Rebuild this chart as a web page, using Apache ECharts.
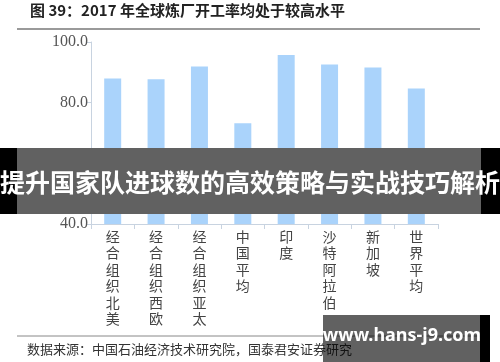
<!DOCTYPE html>
<html><head><meta charset="utf-8">
<script src="https://cdn.jsdelivr.net/npm/echarts@6/dist/echarts.min.js"></script>
<style>html,body{margin:0;padding:0;background:#fff}#c{width:500px;height:362px}</style>
</head><body><div id="c"></div>
<script>
const categories = ['经合组织北美','经合组织西欧','经合组织亚太','中国平均','印度','沙特阿拉伯','新加坡','世界平均'];
const values = [88.0, 87.7, 91.9, 73.2, 95.7, 92.6, 91.6, 84.7];
const yTicks = {min: 40, max: 100, interval: 20};
const titleText = '图 39：2017 年全球炼厂开工率均处于较高水平';
const sourceText = '数据来源：中国石油经济技术研究院，国泰君安证券研究';
const bannerText = '提升国家队进球数的高效策略与实战技巧解析';
const watermarkText = 'www.hans-j9.com';

const chart = echarts.init(document.getElementById('c'), null, {renderer: 'canvas'});
chart.setOption({
  animation: false,
  backgroundColor: '#fff',
  grid: {left: 91, right: 62, top: 42, bottom: 138, containLabel: false},
  xAxis: {
    type: 'category', data: categories, boundaryGap: true,
    axisLine: {lineStyle: {color: '#c8d3e0', width: 1}},
    axisTick: {show: true, length: 5, lineStyle: {color: '#c8d3e0'}},
    axisLabel: {
      interval: 0, margin: 4, color: '#444',
      fontFamily: 'Noto Sans CJK SC', fontSize: 14, lineHeight: 16.5,
      formatter: v => v.split('').join('\n')
    }
  },
  yAxis: {
    type: 'value', min: yTicks.min, max: yTicks.max, interval: yTicks.interval,
    splitLine: {show: false},
    axisLine: {show: true, lineStyle: {color: '#c8d3e0'}},
    axisTick: {show: true, length: 4, lineStyle: {color: '#c8d3e0'}},
    axisLabel: {margin: 3, color: '#555', fontFamily: 'Liberation Serif', fontSize: 16,
      formatter: v => v.toFixed(1)}
  },
  series: [{type: 'bar', data: values, barWidth: 17, itemStyle: {color: '#aad3fb'}}],
  graphic: [
    {type: 'text', left: 30, top: 3, z: 50, style: {text: titleText, font: 'bold 15px "Noto Sans CJK SC"', fill: '#222'}},
    {type: 'line', z: 50, shape: {x1: 17, y1: 29, x2: 480, y2: 29}, style: {stroke: '#9a9a9a', lineWidth: 2}},
    {type: 'line', z: 50, shape: {x1: 17, y1: 336, x2: 480, y2: 336}, style: {stroke: '#888', lineWidth: 1}},
    {type: 'text', left: 27, top: 343, z: 50, style: {text: sourceText, font: '13px "Noto Sans CJK SC"', fill: '#333'}},
    {type: 'rect', z: 100, shape: {x: 0, y: 148, width: 500, height: 66}, style: {fill: '#000'}},
    {type: 'rect', z: 100, shape: {x: 17, y: 148, width: 464, height: 66}, style: {fill: '#ffffff'}},
    {type: 'rect', z: 101, shape: {x: 17, y: 148, width: 464, height: 66}, style: {fill: 'rgba(0,0,0,0.62)'}},
    {type: 'text', z: 102, x: 250, y: 182, style: {text: bannerText, font: 'bold 25px "Noto Sans CJK SC"', fill: '#fff', align: 'center', verticalAlign: 'middle'}},
    {type: 'rect', z: 100, shape: {x: 323, y: 315, width: 157, height: 47}, style: {fill: 'rgba(0,0,0,0.62)'}},
    {type: 'rect', z: 100, shape: {x: 480, y: 315, width: 10, height: 47}, style: {fill: '#000'}},
    {type: 'text', z: 102, x: 402, y: 336, style: {text: watermarkText, font: 'bold 18px "Noto Sans"', fill: '#fff', align: 'center', verticalAlign: 'middle'}}
  ]
});
</script></body></html>
